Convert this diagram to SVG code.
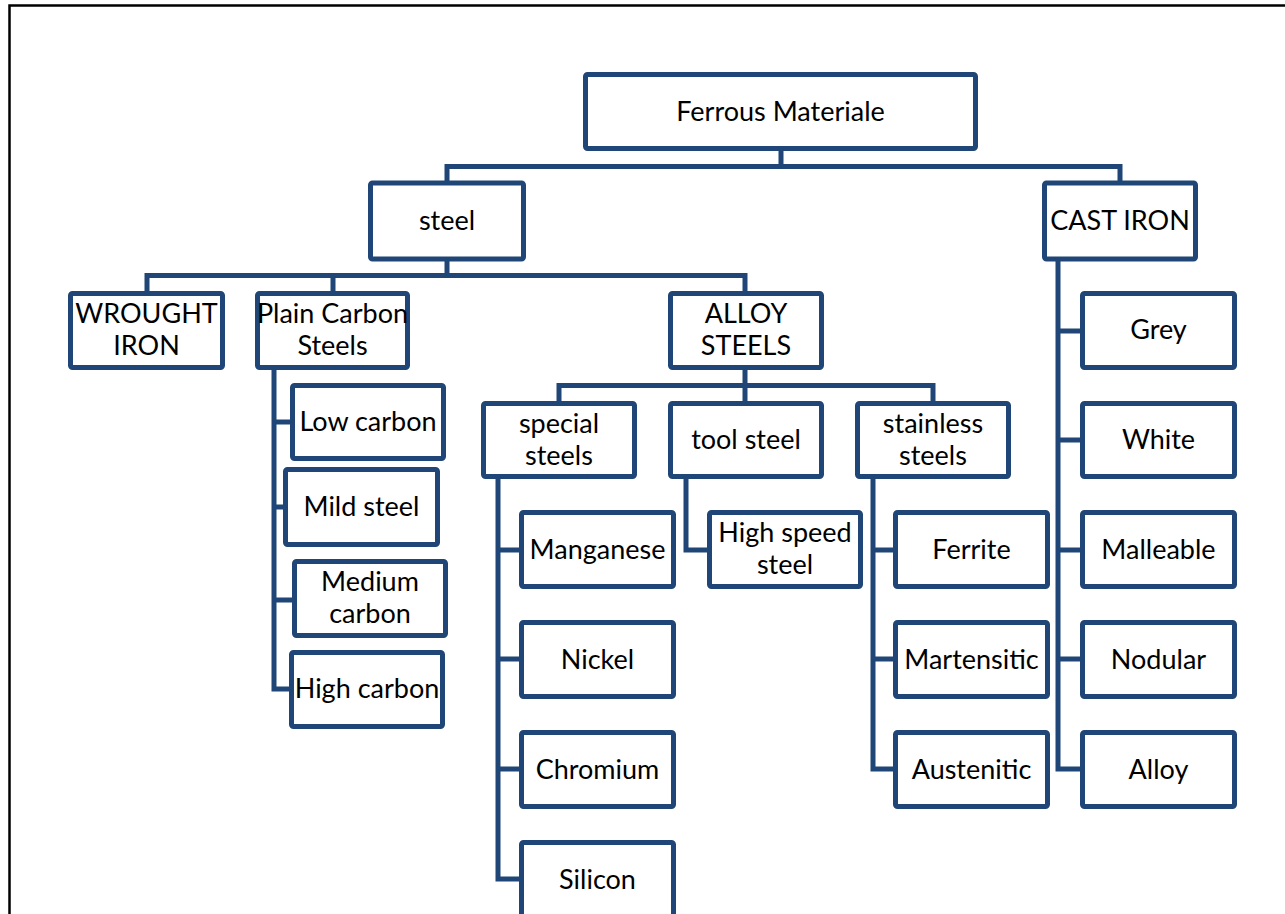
<svg xmlns="http://www.w3.org/2000/svg" width="1285" height="914" viewBox="0 0 1285 914">
<style>
.b{fill:#ffffff;stroke:#1f4677;stroke-width:5;}
.c{fill:none;stroke:#1f4677;stroke-width:5;stroke-linejoin:miter;}
text{font-family:Lato,"Liberation Sans",sans-serif;font-size:27px;fill:#000;text-anchor:middle;}
</style>
<rect x="0" y="0" width="1285" height="914" fill="#ffffff"/>
<path d="M9.5,914 V5.5 H1285" fill="none" stroke="#000" stroke-width="2.5"/>
<g id="connectors" class="c">
<path d="M781,148.5 V166.5 M447,183 V166.5 H1120 V183"/>
<path d="M447,259 V275.5 M147,293.5 V275.5 H745 V293.5 M333,275.5 V293.5"/>
<path d="M745,367.5 V385.5 M559,403.5 V385.5 H933 V403.5 M745,385.5 V403.5"/>
<path d="M274,367.5 V689 H291.5 M274,422 H292.5 M274,507 H285.5 M274,600 H294.5"/>
<path d="M498,476.5 V879 H521.5 M498,550 H521.5 M498,659 H521.5 M498,769 H521.5"/>
<path d="M686,476.5 V550 H709.5"/>
<path d="M873,476.5 V769 H895.5 M873,550 H895.5 M873,659 H895.5"/>
<path d="M1058,259 V769 H1082.5 M1058,331 H1082.5 M1058,440 H1082.5 M1058,550 H1082.5 M1058,659 H1082.5"/>
</g>
<g id="ferrous"><rect class="b" x="585.5" y="74.5" width="390" height="74" rx="2"/><text x="780.5" y="120.5">Ferrous Materiale</text></g>
<g id="steel"><rect class="b" x="370.5" y="183" width="153" height="76" rx="2"/><text x="447" y="229.5">steel</text></g>
<g id="castiron"><rect class="b" x="1044.5" y="183" width="151" height="76" rx="2"/><text x="1120" y="229.5">CAST IRON</text></g>
<g id="wrought"><rect class="b" x="70.5" y="293.5" width="152" height="74" rx="2"/><text x="146.5" y="323">WROUGHT</text><text x="146.5" y="355">IRON</text></g>
<g id="plaincarbon"><rect class="b" x="257.5" y="293.5" width="150" height="74" rx="2"/><text x="332.5" y="323">Plain Carbon</text><text x="332.5" y="355">Steels</text></g>
<g id="alloysteels"><rect class="b" x="670.5" y="293.5" width="151" height="74" rx="2"/><text x="746" y="323">ALLOY</text><text x="746" y="355">STEELS</text></g>
<g id="grey"><rect class="b" x="1082.5" y="293.5" width="152" height="74" rx="2"/><text x="1158.5" y="339">Grey</text></g>
<g id="lowcarbon"><rect class="b" x="292.5" y="385.5" width="151" height="73" rx="2"/><text x="368" y="431">Low carbon</text></g>
<g id="mildsteel"><rect class="b" x="285.5" y="469.5" width="152" height="75" rx="2"/><text x="361.5" y="516">Mild steel</text></g>
<g id="mediumcarbon"><rect class="b" x="294.5" y="561.5" width="151" height="74" rx="2"/><text x="370" y="591">Medium</text><text x="370" y="623">carbon</text></g>
<g id="highcarbon"><rect class="b" x="291.5" y="652.5" width="151" height="74" rx="2"/><text x="367" y="698">High carbon</text></g>
<g id="special"><rect class="b" x="483.5" y="403.5" width="151" height="73" rx="2"/><text x="559" y="432.5">special</text><text x="559" y="464.5">steels</text></g>
<g id="toolsteel"><rect class="b" x="670.5" y="403.5" width="151" height="73" rx="2"/><text x="746" y="449">tool steel</text></g>
<g id="stainless"><rect class="b" x="857.5" y="403.5" width="151" height="73" rx="2"/><text x="933" y="432.5">stainless</text><text x="933" y="464.5">steels</text></g>
<g id="white"><rect class="b" x="1082.5" y="403.5" width="152" height="73" rx="2"/><text x="1158.5" y="449">White</text></g>
<g id="manganese"><rect class="b" x="521.5" y="512.5" width="152" height="74" rx="2"/><text x="597.5" y="558.5">Manganese</text></g>
<g id="highspeed"><rect class="b" x="709.5" y="512.5" width="151" height="74" rx="2"/><text x="785" y="542">High speed</text><text x="785" y="574">steel</text></g>
<g id="ferrite"><rect class="b" x="895.5" y="512.5" width="152" height="74" rx="2"/><text x="971.5" y="558.5">Ferrite</text></g>
<g id="malleable"><rect class="b" x="1082.5" y="512.5" width="152" height="74" rx="2"/><text x="1158.5" y="558.5">Malleable</text></g>
<g id="nickel"><rect class="b" x="521.5" y="622.5" width="152" height="74" rx="2"/><text x="597.5" y="668.5">Nickel</text></g>
<g id="martensitic"><rect class="b" x="895.5" y="622.5" width="152" height="74" rx="2"/><text x="971.5" y="668.5">Martensitic</text></g>
<g id="nodular"><rect class="b" x="1082.5" y="622.5" width="152" height="74" rx="2"/><text x="1158.5" y="668.5">Nodular</text></g>
<g id="chromium"><rect class="b" x="521.5" y="732.5" width="152" height="74" rx="2"/><text x="597.5" y="778.5">Chromium</text></g>
<g id="austenitic"><rect class="b" x="895.5" y="732.5" width="152" height="74" rx="2"/><text x="971.5" y="778.5">Austenitic</text></g>
<g id="alloy"><rect class="b" x="1082.5" y="732.5" width="152" height="74" rx="2"/><text x="1158.5" y="778.5">Alloy</text></g>
<g id="silicon"><rect class="b" x="521.5" y="842.5" width="152" height="74" rx="2"/><text x="597.5" y="888.5">Silicon</text></g>
</svg>
